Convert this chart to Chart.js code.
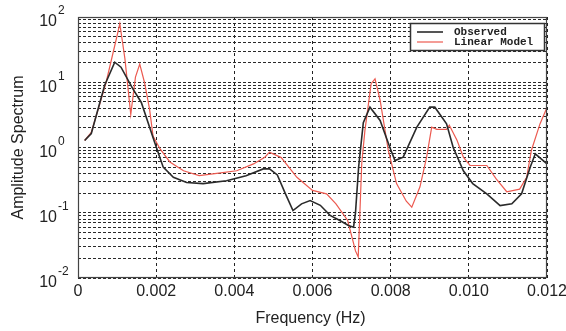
<!DOCTYPE html>
<html>
<head>
<meta charset="utf-8">
<script src="https://cdn.jsdelivr.net/npm/chart.js@4/dist/chart.umd.min.js"></script>
<style>
html,body{margin:0;padding:0;background:#fff;}
canvas{display:block;}
</style>
</head>
<body>
<canvas id="c" width="566" height="331"></canvas>
<script>
// ---- data ----
const seriesNames = ['Observed', 'Linear Model'];
const obsFreq = [0.00017,0.00034,0.00068,0.00094,0.0011,0.0014,0.00162,0.00196,0.00218,0.00244,0.00278,0.0032,0.0038,0.0043,0.00474,0.0049,0.0051,0.0053,0.0055,0.00572,0.00594,0.0062,0.00645,0.0067,0.00692,0.00705,0.0071,0.00718,0.0073,0.00747,0.00773,0.00798,0.00811,0.00832,0.00867,0.009,0.00913,0.00943,0.0096,0.00986,0.0101,0.01046,0.0108,0.0111,0.01135,0.01157,0.0117,0.012];
const obsAmp  = [1.28,1.64,8.9,20.3,17,8,4.9,1.2,0.5,0.35,0.29,0.28,0.31,0.37,0.47,0.47,0.38,0.2,0.108,0.137,0.154,0.13,0.091,0.076,0.064,0.06,0.1,0.5,2.4,4.15,2.6,1.0,0.63,0.71,2.05,4.15,4.15,2.3,1.0,0.44,0.28,0.195,0.129,0.137,0.195,0.5,0.8,0.56];
const modelFreq = [0.00017,0.00034,0.00072,0.00098,0.00107,0.0012,0.00135,0.00147,0.00158,0.0017,0.00183,0.00192,0.0021,0.00235,0.0027,0.0031,0.00355,0.00406,0.00449,0.00478,0.0049,0.0052,0.0056,0.006,0.00636,0.0066,0.0069,0.0071,0.00717,0.00726,0.00734,0.0075,0.0076,0.00773,0.00794,0.00815,0.0084,0.00854,0.00875,0.00892,0.00905,0.00918,0.00943,0.0095,0.0097,0.00986,0.01003,0.01046,0.0107,0.01097,0.0113,0.01148,0.0116,0.01182,0.012];
const modelAmp  = [1.28,1.7,10,46,79,23,3.2,12,19,10,3.9,1.5,0.95,0.6,0.44,0.37,0.4,0.44,0.56,0.71,0.85,0.7,0.35,0.22,0.195,0.137,0.076,0.026,0.021,0.57,1.8,9.5,11.3,5.3,0.9,0.28,0.15,0.122,0.25,0.71,2.05,1.9,1.9,2.2,1.28,0.71,0.53,0.53,0.33,0.21,0.23,0.35,0.9,2.3,4.1];
const xTickValues = [0,0.002,0.004,0.006,0.008,0.010,0.012];
const xTickLabels = ['0','0.002','0.004','0.006','0.008','0.010','0.012'];
const yDecades = [0.01,0.1,1,10,100];
const yExponents = ['-2','-1','0','1','2'];
const xTitle = 'Frequency (Hz)';
const yTitle = 'Amplitude Spectrum';

// ---- build ----
const toPts = (xs, ys) => xs.map((x, i) => ({x: x, y: ys[i]}));
const yGridValues = [];
yDecades.forEach((d, i) => {
  yGridValues.push(d);
  if (i < yDecades.length - 1) for (let k = 2; k <= 9; k++) yGridValues.push(+(k * d).toPrecision(3));
});
const TXT = '#222';

const decor = {
  id: 'decor',
  beforeDraw(chart) {
    const c = chart.ctx;
    c.save(); c.fillStyle = '#fff'; c.fillRect(0, 0, chart.width, chart.height); c.restore();
  },
  afterDraw(chart) {
    const c = chart.ctx, a = chart.chartArea;
    const xs = chart.scales.x, ys = chart.scales.y;
    c.save();
    // frame
    c.strokeStyle = '#444'; c.lineWidth = 1.2;
    c.strokeRect(a.left + 0.5, a.top + 0.5, a.right - a.left - 1, a.bottom - a.top - 1);
    c.fillStyle = TXT;
    // x tick labels
    c.font = '16px "Liberation Sans", Arial, sans-serif';
    c.textAlign = 'center'; c.textBaseline = 'middle';
    xTickValues.forEach((v, i) => c.fillText(xTickLabels[i], xs.getPixelForValue(v), a.bottom + 14));
    // y tick labels
    yDecades.forEach((v, i) => {
      const y = ys.getPixelForValue(v);
      c.font = '16px "Liberation Sans", Arial, sans-serif';
      c.textAlign = 'right'; c.textBaseline = 'middle';
      c.fillText('10', a.left - 21, y + 5);
      c.font = '12px "Liberation Sans", Arial, sans-serif';
      c.textAlign = 'left';
      c.fillText(yExponents[i], a.left - 20, y - 6);
    });
    // titles
    c.font = '16px "Liberation Sans", Arial, sans-serif';
    c.textAlign = 'center'; c.textBaseline = 'middle';
    c.fillText(xTitle, (a.left + a.right) / 2 - 2, a.bottom + 41);
    c.save();
    c.translate(19, (a.top + a.bottom) / 2);
    c.rotate(-Math.PI / 2);
    c.fillText(yTitle, 0, 0);
    c.restore();
    // legend
    const lx = a.right - 137, ly = a.top + 6, lw = 134, lh = 27;
    c.fillStyle = '#fff'; c.fillRect(lx, ly, lw, lh);
    c.strokeStyle = '#333'; c.lineWidth = 1.5; c.strokeRect(lx + 0.5, ly + 0.5, lw, lh);
    c.font = 'bold 11px "Liberation Mono", "DejaVu Sans Mono", monospace';
    c.textAlign = 'left'; c.textBaseline = 'middle';
    chart.data.datasets.forEach((ds, i) => {
      const yy = ly + 9 + i * 10;
      c.strokeStyle = ds.borderColor; c.lineWidth = ds.borderWidth;
      c.beginPath(); c.moveTo(lx + 7, yy); c.lineTo(lx + 33, yy); c.stroke();
      c.fillStyle = TXT; c.fillText(ds.label, lx + 44, yy);
    });
    c.restore();
  }
};

new Chart(document.getElementById('c'), {
  type: 'line',
  data: {
    datasets: [
      {label: seriesNames[0], data: toPts(obsFreq, obsAmp), borderColor: '#2a2a2a', borderWidth: 1.6, pointRadius: 0, tension: 0, fill: false},
      {label: seriesNames[1], data: toPts(modelFreq, modelAmp), borderColor: '#ec5a50', borderWidth: 1.2, pointRadius: 0, tension: 0, fill: false}
    ]
  },
  options: {
    responsive: false,
    animation: false,
    devicePixelRatio: 1,
    layout: {padding: {left: 78, right: 19, top: 17, bottom: 53}},
    plugins: {legend: {display: false}, tooltip: {enabled: false}},
    scales: {
      x: {
        type: 'linear', min: 0, max: 0.012,
        afterBuildTicks: s => { s.ticks = xTickValues.map(v => ({value: v})); },
        ticks: {display: false},
        grid: {color: '#222', lineWidth: 1, drawTicks: false},
        border: {display: false, dash: [3, 3]}
      },
      y: {
        type: 'logarithmic', min: 0.01, max: 100,
        afterBuildTicks: s => { s.ticks = yGridValues.map(v => ({value: v})); },
        ticks: {display: false},
        grid: {color: '#2a2a2a', lineWidth: 1, drawTicks: false},
        border: {display: false, dash: [3, 2]}
      }
    }
  },
  plugins: [decor]
});
</script>
</body>
</html>
